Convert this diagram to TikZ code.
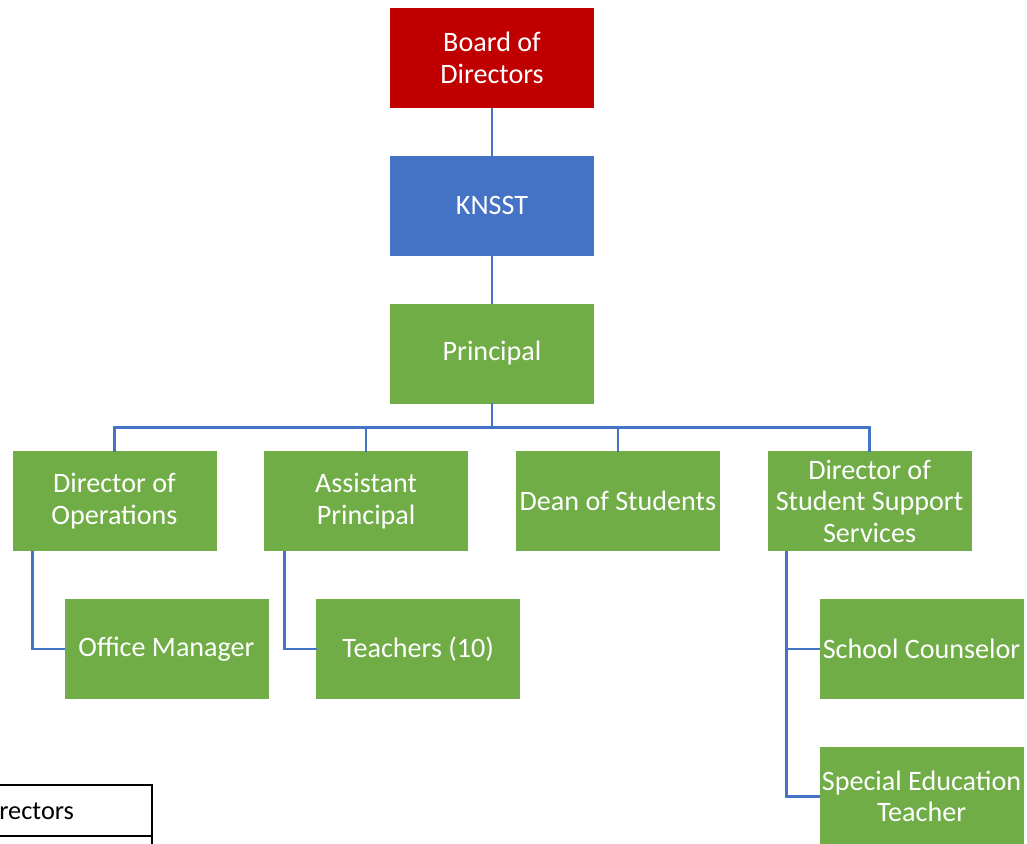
\documentclass[tikz,border=0pt]{standalone}
\usepackage{fontspec}
\setmainfont{Carlito}
\usetikzlibrary{positioning}

\definecolor{boardred}{HTML}{C00000}
\definecolor{knsstblue}{HTML}{4472C4}
\definecolor{staffgreen}{HTML}{70AD47}
\definecolor{linkblue}{HTML}{4472C4}

\tikzset{
	box/.style = {rectangle, draw=white, line width=0.4pt, text=white,
		minimum width=4.1cm, minimum height=2.02cm, inner sep=1pt,
		align=center, font=\fontsize{16}{18}\selectfont},
	link/.style = {draw=linkblue, line width=1.5pt, line cap=rect},
}

\begin{document}
\begin{tikzpicture}
		\clip (0,0) rectangle (20.54,-16.88);

		\node [box, fill=boardred] (board) at (9.84,-1.16) {Board of\\Directors};
		\node [box, fill=knsstblue, below = 0.92cm of board] (knsst) {KNSST};
		\node [box, fill=staffgreen, below = 0.92cm of knsst] (principal) {Principal};

		% second row, hung from the principal
		\node [box, fill=staffgreen, below left = 0.92cm and 0.46cm of principal.south] (asst) {Assistant\\Principal};
		\node [box, fill=staffgreen, left = 0.92cm of asst] (ops) {Director of\\Operations};
		\node [box, fill=staffgreen, right = 0.92cm of asst] (dean) {Dean of Students};
		\node [box, fill=staffgreen, right = 0.92cm of dean] (dsss) {Director of\\Student Support\\Services};

		% third row
		\node [box, fill=staffgreen, below right = 0.92cm and 1.04cm of ops.south west, anchor=north west] (office) {Office Manager};
		\node [box, fill=staffgreen, below right = 0.92cm and 1.04cm of asst.south west, anchor=north west] (teachers) {Teachers (10)};
		\node [box, fill=staffgreen, below right = 0.92cm and 1.04cm of dsss.south west, anchor=north west] (counsel) {School Counselor};
		\node [box, fill=staffgreen, below = 0.92cm of counsel] (sped) {Special Education\\Teacher};

		\path [link]
		(board) edge (knsst)
		(knsst) edge (principal);

		\draw [link] (principal.south) -- ++(0,-0.46) coordinate (bus);
		\foreach \n in {ops, asst, dean, dsss}
			\draw [link] (bus) -| (\n.north);

		\draw [link] ([xshift=0.42cm]ops.south west) |- (office.west);
		\draw [link] ([xshift=0.42cm]asst.south west) |- (teachers.west);
		\draw [link] ([xshift=0.4cm]dsss.south west) |- (counsel.west);
		\draw [link] ([xshift=0.4cm]dsss.south west) |- (sped.west);

		% table peeking in at the lower left
		\draw [black, line width=1pt] (-0.2,-15.7) -- (3.04,-15.7) -- (3.04,-17.2);
		\draw [black, line width=1pt] (-0.2,-16.72) -- (3.04,-16.72);
		\node [anchor=west, inner sep=0pt, font=\fontsize{15}{18}\selectfont] (legend) at (-0.02,-16.22) {rectors};

	\end{tikzpicture}
\end{document}
